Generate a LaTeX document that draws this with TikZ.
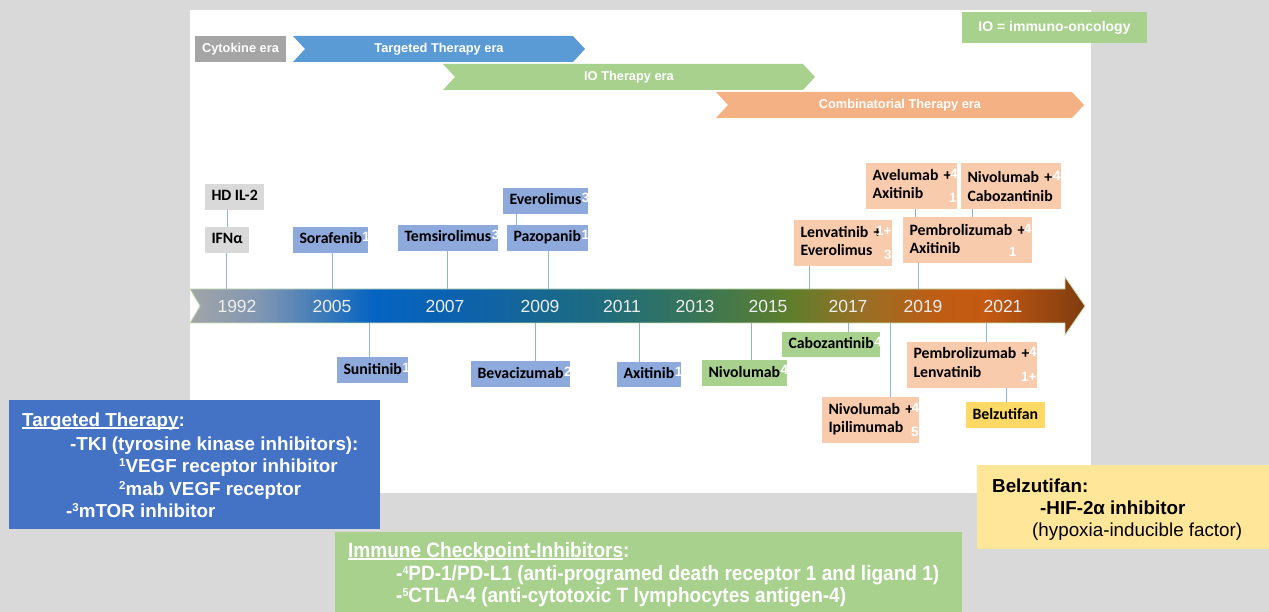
\documentclass[tikz,border=0pt]{standalone}
\usepackage{fontspec}
\setmainfont{Liberation Sans}
\newfontfamily\calibri{Carlito}
\newfontfamily\narrowsans[FakeStretch=0.915]{Liberation Sans}
\usetikzlibrary{positioning}

% palette
\definecolor{pagegray}{HTML}{D9D9D9}
\definecolor{cytogray}{HTML}{A5A5A5}
\definecolor{erablue}{HTML}{5B9BD5}
\definecolor{iogreen}{HTML}{A9D18E}
\definecolor{eraorange}{HTML}{F4B183}
\definecolor{tkiblue}{HTML}{8EA9DB}
\definecolor{combopeach}{HTML}{F8CBAD}
\definecolor{belzgold}{HTML}{FFD966}
\definecolor{keyblue}{HTML}{4472C4}
\definecolor{keyyellow}{HTML}{FFE699}
\definecolor{stem}{HTML}{8FB4D2}
\definecolor{yearwhite}{HTML}{EEEEEE}
\definecolor{tledge}{HTML}{C5DDB5}
% timeline gradient stops
\definecolor{tlA}{HTML}{A2A5A7}
\definecolor{tlB}{HTML}{8096B2}
\definecolor{tlC}{HTML}{0563C1}
\definecolor{tlD}{HTML}{0D62AA}
\definecolor{tlE}{HTML}{1E6C7E}
\definecolor{tlF}{HTML}{3A7656}
\definecolor{tlG}{HTML}{5E7E2C}
\definecolor{tlH}{HTML}{977025}
\definecolor{tlI}{HTML}{C05C14}
\definecolor{tlJ}{HTML}{C55A11}
\definecolor{tlK}{HTML}{7F3C10}

\pgfdeclarehorizontalshading{timeline}{100bp}{%
  color(0bp)=(tlA); color(25bp)=(tlA); color(28.9bp)=(tlB);
  color(35.3bp)=(tlC); color(40.6bp)=(tlD); color(47.9bp)=(tlE);
  color(53.5bp)=(tlF); color(58.5bp)=(tlG); color(62.4bp)=(tlH);
  color(66.9bp)=(tlI); color(69.4bp)=(tlJ); color(75bp)=(tlK);
  color(100bp)=(tlK)}

% small white reference numbers
\newcommand\numfont{\color{white}\rmfamily\bfseries\fontsize{13.5}{13.5}\selectfont}
\newcommand\idx[1]{\rlap{\hspace{0.5pt}\raisebox{2pt}{\numfont #1}}}
\newcommand\cnum[2]{\rlap{\hspace{6pt}\llap{\raisebox{#1}{\numfont #2}}}}
\newcommand\undl[1]{\setbox0=\hbox{#1}\rlap{\rule[-2.5pt]{\wd0}{1.2pt}}\box0}
% footnote marks in the keys
\newcommand\keysup[1]{\raisebox{5.5pt}{\fontsize{11.5}{11.5}\selectfont #1}}

\tikzset{
  box/.style={font=\calibri\bfseries\fontsize{15.8}{18.5}\selectfont,
    inner xsep=6.5pt, inner ysep=0pt, outer sep=0pt, anchor=west},
  one/.style={box, minimum height=25.5pt, text height=11.5pt, text depth=3.5pt},
  two/.style={box, fill=combopeach, minimum height=46pt, align=left},
  tki/.style={one, fill=tkiblue},
  ici/.style={one, fill=iogreen},
  link/.style={draw=stem, line width=1pt},
  year/.style={text=yearwhite, font=\fontsize{17.5}{17.5}\selectfont},
  era/.style={text=white, font=\bfseries\fontsize{12.8}{12.8}\selectfont},
  keytext/.style={anchor=base west, inner sep=0pt, text=white},
}

\begin{document}
\begin{tikzpicture}[x=1pt,y=-1pt]
	\useasboundingbox (0,0) rectangle (1269,612);
	\fill[pagegray] (0,0) rectangle (1269,612);
	\fill[white] (190,10) rectangle (1091,493);
	
	% eras
	\fill[cytogray] (195,36) rectangle (286,62);
	\node[era] (cyto) at (240.5,49) {Cytokine era};
	\foreach \a/\b/\y/\c/\t [count=\i] in {293/585/36/erablue/Targeted Therapy era,
		443/815/64/iogreen/IO Therapy era,716/1084/92/eraorange/Combinatorial Therapy era} {
		\fill[\c] (\a,\y) -- (\b-12,\y) -- (\b,\y+13) -- (\b-12,\y+26) -- (\a,\y+26) -- (\a+12,\y+13) -- cycle;
		\node[era] (era\i) at ({(\a+\b)/2},\y+13) {\t};
	}
	\node[fill=iogreen, text=white, font=\bfseries\fontsize{14}{14}\selectfont,
	minimum width=185, minimum height=31, inner sep=0pt] (iokey) at (1054.5,27.5) {IO = immuno-oncology};
	
	% timeline arrow
	\shade[shading=timeline, draw=tledge, line width=0.8pt]
	(190,289) -- (1065,289) -- (1065,277) -- (1085,306) -- (1065,335)
	-- (1065,323) -- (190,323) -- (200,306) -- cycle;
	\coordinate (tlN) at (0,289);
	\coordinate (tlS) at (0,323);
	\foreach \x/\yr in {237/1992,332/2005,445/2007,540/2009,622/2011,695/2013,768/2015,848/2017,923/2019,1003/2021}
	\node[year] (y\yr) at (\x,306) {\yr};
	
	% approvals above the line
	\node[one, fill=pagegray] (hdil2) at (205,197) {HD IL-2};
	\node[one, fill=pagegray] (ifna) at (205,240) {IFNα};
	\node[tki] (soraf) at (293,240) {Sorafenib\idx{1}};
	\node[tki] (temsi) at (398,238) {Temsirolimus\idx{3}};
	\node[tki] (evero) at (503,201) {Everolimus\idx{3}};
	\node[tki] (pazo) at (507,238) {Pazopanib\idx{1}};
	\node[two, text width=85pt] (lenevr) at (794,243) {Lenvatinib~+\nobreak\hfill\cnum{2pt}{1+}\\Everolimus\nobreak\hfill\cnum{-4pt}{3}};
	\node[two, text width=78pt] (aveaxi) at (866,186) {Avelumab~+\nobreak\hfill\cnum{2pt}{4}\\Axitinib\nobreak\hfill\cnum{-4pt}{1}};
	\node[two, text width=87pt] (nivcabo) at (961,186.5) {Nivolumab~+\nobreak\hfill\cnum{2pt}{4}\\Cabozantinib};
	\node[two, text width=116pt] (pemaxi) at (903,240.5) {Pembrolizumab~+\nobreak\hfill\cnum{2pt}{4}\\Axitinib\nobreak\hfill\cnum{-3pt}{1}\kern15pt};
	
	% approvals below the line
	\node[tki] (sunit) at (337,370) {Sunitinib\idx{1}};
	\node[tki] (bev) at (471,374) {Bevacizumab\idx{2}};
	\node[tki] (axit) at (617,374.5) {Axitinib\idx{1}};
	\node[ici] (nivo) at (702,373) {Nivolumab\idx{4}};
	\node[ici] (cabo) at (782,344.5) {Cabozantinib\idx{4}};
	\node[two, text width=84pt] (nivipi) at (822,420) {Nivolumab~+\nobreak\hfill\cnum{2pt}{4}\\Ipilimumab\nobreak\hfill\cnum{-4pt}{5}};
	\node[two, text width=117pt] (pemlen) at (907,364.5) {Pembrolizumab~+\nobreak\hfill\cnum{2pt}{4}\\Lenvatinib\nobreak\hfill\cnum{-4pt}{1+}};
	\node[one, fill=belzgold] (belz) at (966,415) {Belzutifan};
	
	% stems
	\foreach \n/\dx in {ifna/21,soraf/39,temsi/49,pazo/41,lenevr/15,pemaxi/15} {
		\path (\n.south west) ++(\dx,0) coordinate (c);
		\draw[link] (c) -- (c |- tlN);
	}
	\foreach \n/\dx in {sunit/32,bev/64,axit/22,nivo/49,cabo/66,nivipi/68,pemlen/79} {
		\path (\n.north west) ++(\dx,0) coordinate (c);
		\draw[link] (c |- tlS) -- (c);
	}
	\foreach \a/\b/\dx in {hdil2/ifna/22,evero/pazo/13,aveaxi/pemaxi/49,nivcabo/pemaxi/11,pemlen/belz/99} {
		\path (\a.south west) ++(\dx,0) coordinate (c);
		\draw[link] (c) -- (c |- \b.north);
	}
	
	% keys
	\fill[keyblue] (9,400) rectangle (380,529);
	\begin{scope}[every node/.style={keytext, font=\bfseries\fontsize{18.8}{18.8}\selectfont}]
		\node (tt1) at (22,426) {\undl{Targeted Therapy}:};
		\node (tt2) at (70,450) {-TKI (tyrosine kinase inhibitors):};
		\node (tt3) at (119,472) {\keysup{1}VEGF receptor inhibitor};
		\node (tt4) at (119,495) {\keysup{2}mab VEGF receptor};
		\node (tt5) at (66,517) {-\keysup{3}mTOR inhibitor};
	\end{scope}
	
	\fill[iogreen] (335,532) rectangle (962,612);
	\begin{scope}[every node/.style={keytext, font=\narrowsans\bfseries\fontsize{20.8}{20.8}\selectfont}]
		\node (ci1) at (348,557) {\undl{Immune Checkpoint-Inhibitors}:};
		\node (ci2) at (396,580) {-\keysup{4}PD-1/PD-L1 (anti-programed death receptor 1 and ligand 1)};
		\node (ci3) at (396,602) {-\keysup{5}CTLA-4 (anti-cytotoxic T lymphocytes antigen-4)};
	\end{scope}
	
	\fill[keyyellow] (977,465) rectangle (1269,549);
	\begin{scope}[every node/.style={anchor=base west, inner sep=0pt, font=\fontsize{18.8}{18.8}\selectfont}]
		\node[font=\bfseries\fontsize{18.8}{18.8}\selectfont] (bz1) at (992,492) {Belzutifan:};
		\node[font=\bfseries\fontsize{18.8}{18.8}\selectfont] (bz2) at (1040,514) {-HIF-2α inhibitor};
		\node (bz3) at (1032,536) {(hypoxia-inducible factor)};
	\end{scope}
\end{tikzpicture}
\end{document}
